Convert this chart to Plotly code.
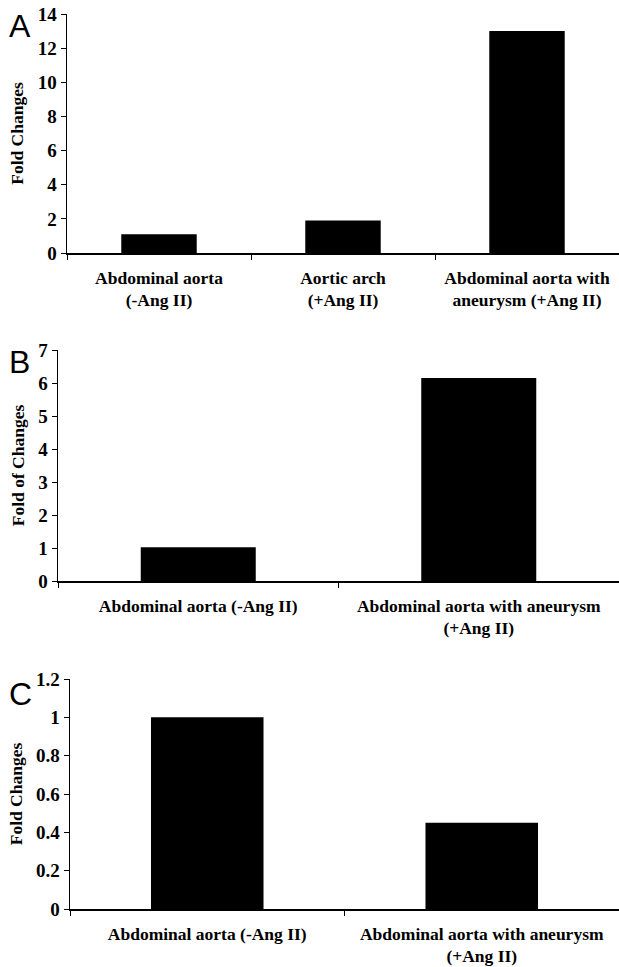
import plotly.graph_objects as go

# Panel A
cats_a = ["Abdominal aorta<br>(-Ang II)", "Aortic arch<br>(+Ang II)", "Abdominal aorta with<br>aneurysm (+Ang II)"]
vals_a = [1.1, 1.9, 13.0]
ticks_a = [0, 2, 4, 6, 8, 10, 12, 14]

# Panel B
cats_b = ["Abdominal aorta (-Ang II)", "Abdominal aorta with aneurysm<br>(+Ang II)"]
vals_b = [1.02, 6.15]
ticks_b = [0, 1, 2, 3, 4, 5, 6, 7]

# Panel C
cats_c = ["Abdominal aorta (-Ang II)", "Abdominal aorta with aneurysm<br>(+Ang II)"]
vals_c = [1.0, 0.45]
ticks_c = [0, 0.2, 0.4, 0.6, 0.8, 1, 1.2]
ticktext_c = ["0", "0.2", "0.4", "0.6", "0.8", "1", "1.2"]

W, H = 619, 967
serif = "Liberation Serif"

def fnt(size=18):
    return dict(family=serif, size=size, color="black", weight="bold")

fig = go.Figure()
fig.add_trace(go.Bar(x=cats_a, y=vals_a, marker=dict(color="black", line=dict(width=0)), xaxis="x", yaxis="y"))
fig.add_trace(go.Bar(x=cats_b, y=vals_b, marker=dict(color="black", line=dict(width=0)), xaxis="x2", yaxis="y2"))
fig.add_trace(go.Bar(x=cats_c, y=vals_c, marker=dict(color="black", line=dict(width=0)), xaxis="x3", yaxis="y3"))

def xa(dom, anchor):
    return dict(domain=dom, anchor=anchor, showline=True, linecolor="black", linewidth=1.5,
                ticks="outside", tickson="boundaries", ticklen=5, tickcolor="black",
                tickfont=fnt(17.5), ticklabelstandoff=8, showgrid=False, zeroline=False,
                automargin=False)

def ya(dom, anchor, rng, tv, tt, title):
    return dict(domain=dom, anchor=anchor, range=rng, tickvals=tv,
                ticktext=["<b>%s</b>" % t for t in tt],
                showline=True, linecolor="black", linewidth=1.5, ticks="outside", ticklen=5,
                tickcolor="black", tickfont=fnt(19), showgrid=False, zeroline=False,
                automargin=False,
                title=dict(text="<b>%s</b>" % title, font=fnt(17.5), standoff=9))

def yd(top, bottom):
    return [1 - bottom / H, 1 - top / H]

fig.update_layout(
    width=W, height=H, margin=dict(l=0, r=0, t=0, b=0, autoexpand=False),
    plot_bgcolor="white", paper_bgcolor="white", showlegend=False, bargap=0.59,
    xaxis=xa([67 / W, 1.0], "y"),
    yaxis=ya(yd(14, 253), "x", [0, 14], ticks_a, [str(t) for t in ticks_a], "Fold Changes"),
    xaxis2=xa([58 / W, 1.0], "y2"),
    yaxis2=ya(yd(350, 581), "x2", [0, 7], ticks_b, [str(t) for t in ticks_b], "Fold of Changes"),
    xaxis3=xa([70 / W, 1.0], "y3"),
    yaxis3=ya(yd(679, 909), "x3", [0, 1.2], ticks_c, ticktext_c, "Fold Changes"),
)

for letter, ypx in [("A", 26), ("B", 362), ("C", 694)]:
    fig.add_annotation(text=letter, xref="paper", yref="paper", x=7 / W, y=1 - ypx / H,
                       xanchor="left", yanchor="middle", showarrow=False,
                       font=dict(family="Liberation Sans", size=32, color="black"))

fig.write_html("out.html", config={"displayModeBar": False, "staticPlot": True},
               post_script="document.body.style.margin='0px';document.body.style.overflow='hidden';")
